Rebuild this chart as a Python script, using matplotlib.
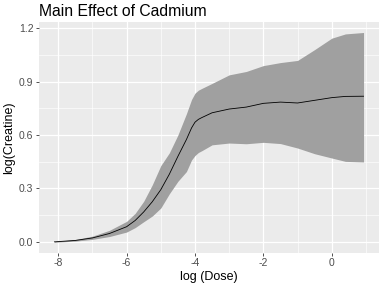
import matplotlib
matplotlib.use('Agg')
import matplotlib.pyplot as plt

# values
log_dose = [-8.11, -7.5, -7.0, -6.5, -6.0, -5.75, -5.5, -5.25, -5.0, -4.75, -4.5,
            -4.25, -4.1, -4.0, -3.9, -3.8, -3.5, -3.0, -2.5, -2.0, -1.5, -1.0,
            -0.5, 0.0, 0.4, 0.93]
fit = [0.0, 0.008, 0.022, 0.047, 0.085, 0.12, 0.168, 0.225, 0.293, 0.38, 0.48,
       0.575, 0.64, 0.672, 0.688, 0.698, 0.725, 0.746, 0.757, 0.778, 0.785, 0.78,
       0.795, 0.81, 0.817, 0.818]
upper = [0.002, 0.013, 0.032, 0.065, 0.115, 0.16, 0.228, 0.32, 0.428, 0.5, 0.6,
         0.72, 0.8, 0.835, 0.852, 0.862, 0.89, 0.938, 0.957, 0.99, 1.007, 1.019,
         1.08, 1.144, 1.168, 1.176]
lower = [-0.002, 0.004, 0.014, 0.03, 0.055, 0.08, 0.113, 0.145, 0.19, 0.27, 0.34,
         0.395, 0.46, 0.485, 0.502, 0.512, 0.545, 0.555, 0.551, 0.559, 0.552, 0.527,
         0.495, 0.471, 0.452, 0.449]

x_major = [-8, -6, -4, -2, 0]
x_minor = [-7, -5, -3, -1, 1]
y_major = [0.0, 0.3, 0.6, 0.9, 1.2]
y_minor = [0.15, 0.45, 0.75, 1.05]

plt.rcParams['font.family'] = ['Liberation Sans', 'DejaVu Sans']

fig = plt.figure(figsize=(3.83, 2.87), dpi=100)
ax = fig.add_axes([39 / 383, 1 - 252.7 / 287, (379 - 39) / 383, (252.7 - 22) / 287])
ax.set_facecolor('#EBEBEB')

for v in x_minor:
    ax.axvline(v, color='white', lw=0.45, zorder=0)
for v in y_minor:
    ax.axhline(v, color='white', lw=0.45, zorder=0)
for v in x_major:
    ax.axvline(v, color='white', lw=0.9, zorder=0)
for v in y_major:
    ax.axhline(v, color='white', lw=0.9, zorder=0)

ax.fill_between(log_dose, lower, upper, color='#A0A0A0', lw=0, zorder=2)
ax.plot(log_dose, fit, color='black', lw=0.6, zorder=3)

span = log_dose[-1] - log_dose[0]
ax.set_xlim(log_dose[0] - 0.05 * span, log_dose[-1] + 0.05 * span)
ylo, yhi = min(lower), max(upper)
ax.set_ylim(ylo - 0.05 * (yhi - ylo), yhi + 0.05 * (yhi - ylo))

ax.set_xticks(x_major)
ax.set_xticklabels([str(v) for v in x_major])
ax.set_yticks(y_major)
ax.set_yticklabels([f'{v:.1f}' for v in y_major])
ax.tick_params(length=2.5, width=0.6, color='#333333', labelcolor='#4D4D4D',
               labelsize=7.5, pad=1.5)
for s in ax.spines.values():
    s.set_visible(False)

ax.set_xlabel('log (Dose)', fontsize=9, labelpad=2)
ax.set_ylabel('log(Creatine)', fontsize=9, labelpad=3)
ax.set_title('Main Effect of Cadmium', loc='left', fontsize=11.3, pad=4)

fig.savefig('out.png', dpi=100)
